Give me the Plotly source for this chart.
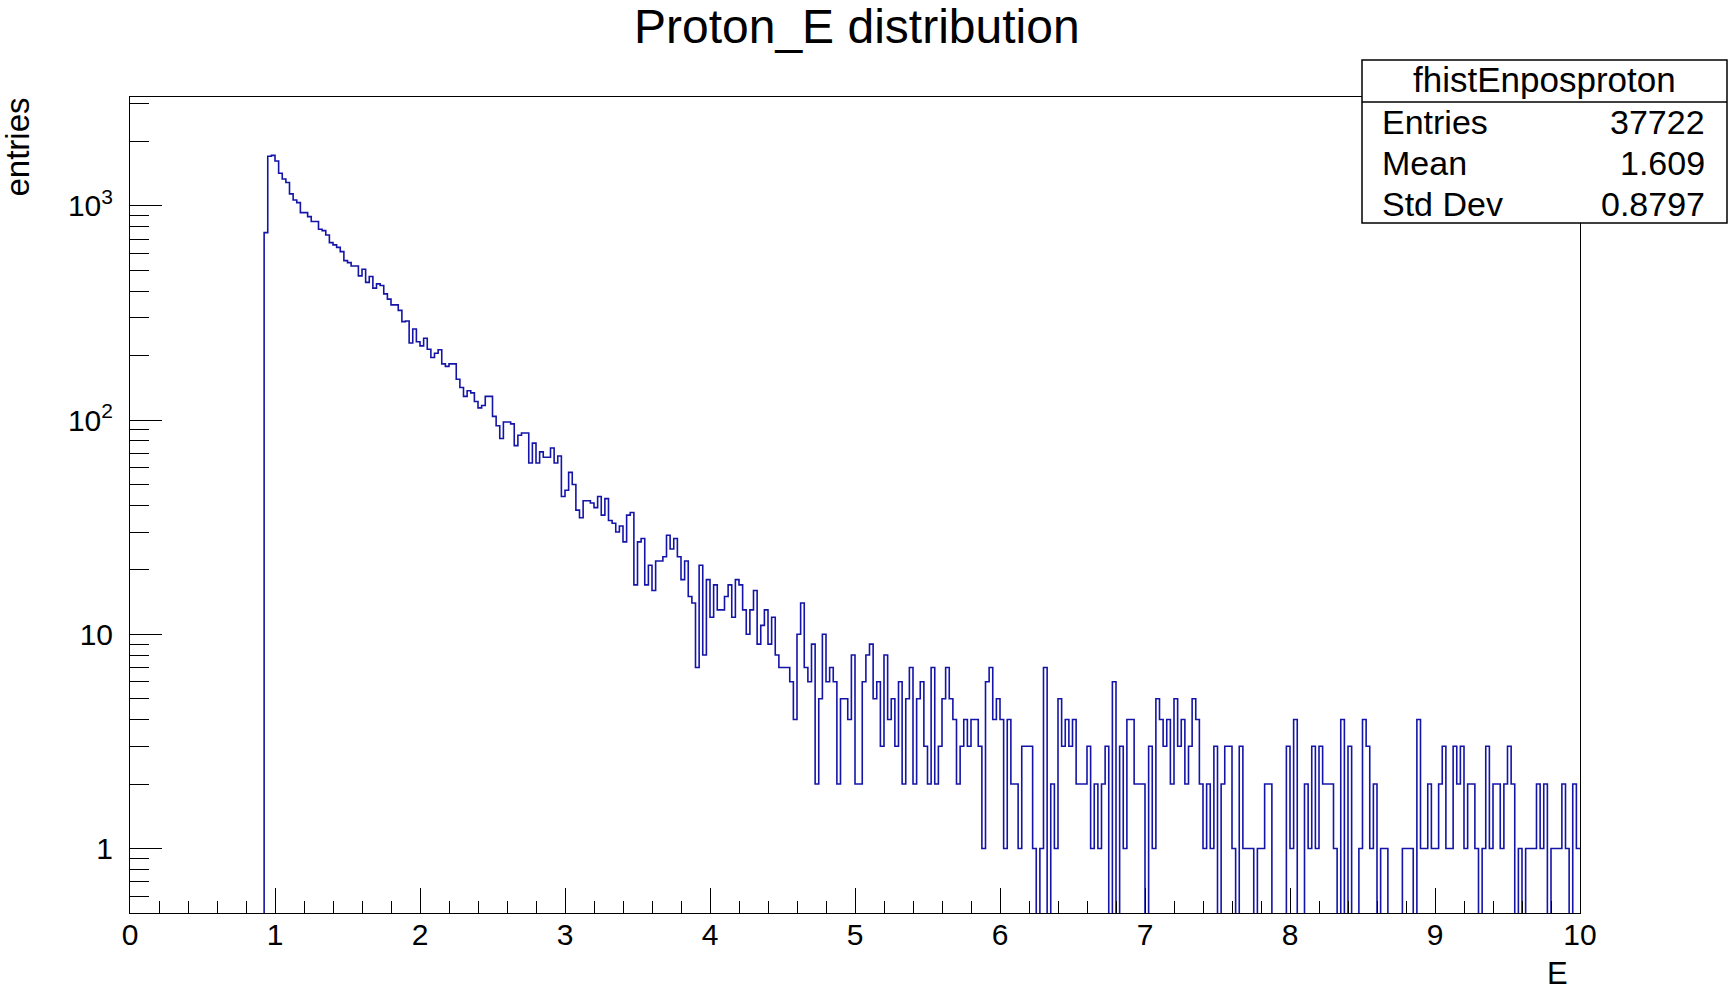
import plotly.graph_objects as go

# Histogram binning: 400 bins of width 0.025 between 0 and 10
x_min = 0.0
x_max = 10.0
bin_width = 0.025

# Bin contents, one value per bin, bin 0 starts at E = 0
counts = [
    0, 0, 0, 0, 0, 0, 0, 0, 0, 0,
    0, 0, 0, 0, 0, 0, 0, 0, 0, 0,
    0, 0, 0, 0, 0, 0, 0, 0, 0, 0,
    0, 0, 0, 0, 0, 0, 0, 750, 1705, 1720,
    1620, 1420, 1335, 1285, 1137, 1065, 1035, 930, 930, 890,
    845, 845, 778, 766, 731, 673, 657, 640, 611, 555,
    543, 524, 524, 471, 506, 439, 468, 413, 432, 425,
    388, 367, 345, 345, 325, 288, 290, 229, 266, 232,
    222, 241, 214, 196, 205, 213, 183, 178, 183, 183,
    155, 142, 129, 137, 134, 122, 114, 117, 129, 129,
    104, 94, 82, 98, 98, 96, 76, 85, 87, 87,
    63, 78, 63, 71, 67, 67, 74, 63, 68, 44,
    47, 57, 50, 38, 35, 42, 42, 41, 39, 44,
    36, 43, 34, 33, 30, 32, 27, 36, 37, 17,
    27, 28, 17, 21, 16, 22, 22, 23, 29, 25,
    28, 23, 18, 22, 15, 14, 7, 21, 8, 18,
    12, 17, 13, 13, 15, 17, 12, 18, 17, 13,
    10, 13, 16, 9, 11, 13, 9, 12, 8, 7,
    7, 7, 6, 4, 10, 14, 7, 6, 9, 2,
    5, 10, 6, 7, 6, 2, 5, 5, 4, 8,
    2, 2, 6, 8, 9, 5, 6, 3, 8, 4,
    5, 3, 6, 2, 5, 7, 2, 5, 6, 3,
    2, 7, 2, 3, 5, 7, 5, 4, 2, 3,
    4, 3, 4, 4, 3, 1, 6, 7, 4, 5,
    4, 1, 4, 2, 2, 1, 3, 3, 3, 1,
    0, 1, 7, 0, 2, 1, 5, 3, 4, 3,
    4, 2, 2, 2, 3, 1, 2, 1, 2, 3,
    0, 6, 0, 3, 1, 4, 4, 2, 2, 2,
    0, 3, 1, 5, 4, 3, 4, 2, 5, 3,
    4, 2, 3, 5, 4, 2, 1, 2, 1, 3,
    0, 2, 3, 3, 1, 0, 3, 1, 1, 1,
    0, 1, 1, 2, 2, 0, 0, 0, 0, 3,
    1, 4, 0, 0, 2, 1, 3, 1, 3, 2,
    2, 2, 1, 0, 4, 0, 3, 0, 0, 1,
    4, 3, 1, 2, 0, 1, 1, 0, 0, 0,
    0, 1, 1, 1, 0, 4, 1, 1, 2, 1,
    1, 2, 3, 1, 1, 3, 2, 3, 1, 2,
    2, 1, 0, 1, 3, 1, 2, 2, 1, 2,
    3, 2, 0, 1, 0, 1, 1, 1, 2, 1,
    2, 0, 1, 1, 1, 2, 1, 0, 2, 1,
]

hist_name = "fhistEnposproton"
stat_labels = ["Entries", "Mean", "Std Dev"]
stat_values = ["37722", "1.609", "0.8797"]

y_tick_vals = [1, 10, 100, 1000]
y_tick_text = ["1", "10", "10<sup>2</sup>", "10<sup>3</sup>"]
y_minor_vals = [0.5, 0.6, 0.7, 0.8, 0.9,
                2, 3, 4, 5, 6, 7, 8, 9,
                20, 30, 40, 50, 60, 70, 80, 90,
                200, 300, 400, 500, 600, 700, 800, 900,
                2000, 3000]
x_tick_vals = [0, 1, 2, 3, 4, 5, 6, 7, 8, 9, 10]

# Canvas geometry (pixels)
W, H = 1729, 989
L, R, T, B = 130, 1580, 97, 913

def px(x):
    return (x - L) / (R - L)

def py(y):
    return (B - y) / (B - T)

# Step outline: empty bins sink below the visible log range
n_bins = len(counts)
edges = [x_min + i * bin_width for i in range(n_bins + 1)]
floor_val = 1e-3
ys = [c if c > 0 else floor_val for c in counts]
ys = ys + [ys[-1]]

line_color = "#1414a8"
font_family = "Liberation Sans, Arial, Helvetica, sans-serif"

fig = go.Figure()
fig.add_trace(go.Scatter(
    x=edges, y=ys, mode="lines",
    line=dict(shape="hv", color=line_color, width=1.6),
    hoverinfo="skip", showlegend=False,
))

fig.update_layout(
    width=W, height=H,
    margin=dict(l=L, r=W - R, t=T, b=H - B, pad=0),
    paper_bgcolor="white", plot_bgcolor="white",
    font=dict(family=font_family, color="black"),
    showlegend=False,
)

fig.update_xaxes(
    range=[x_min, x_max], showgrid=False, zeroline=False,
    showline=True, linecolor="black", linewidth=1, mirror=True,
    tickmode="array", tickvals=x_tick_vals,
    ticks="inside", ticklen=25, tickwidth=1, tickcolor="black",
    tickfont=dict(size=30, family=font_family),
    ticklabelstandoff=-5,
    minor=dict(dtick=0.2, ticks="inside", ticklen=12, tickwidth=1, tickcolor="black"),
)

fig.update_yaxes(
    type="log", range=[-0.3010, 3.508], showgrid=False, zeroline=False,
    showline=True, linecolor="black", linewidth=1, mirror=True,
    tickmode="array", tickvals=y_tick_vals, ticktext=y_tick_text,
    ticks="inside", ticklen=32, tickwidth=1, tickcolor="black",
    tickfont=dict(size=30, family=font_family),
    ticklabelstandoff=10,
    minor=dict(tickmode="array", tickvals=y_minor_vals, ticks="inside",
               ticklen=19, tickwidth=1, tickcolor="black"),
)

annotations = []
shapes = []

# Title
annotations.append(dict(
    text="Proton_E distribution", x=px(857), y=py(26),
    xref="paper", yref="paper", xanchor="center", yanchor="middle",
    showarrow=False, font=dict(size=48, family=font_family),
))

# Axis titles
annotations.append(dict(
    text="entries", x=px(17), y=py(96), textangle=-90,
    xref="paper", yref="paper", xanchor="center", yanchor="top",
    showarrow=False, font=dict(size=33, family=font_family),
))
annotations.append(dict(
    text="E", x=px(1557), y=py(973),
    xref="paper", yref="paper", xanchor="center", yanchor="middle",
    showarrow=False, font=dict(size=31, family=font_family),
))

# Statistics box
bx0, bx1, by0, by1, bsep = 1362, 1727, 60, 223, 102
shapes.append(dict(type="rect", xref="paper", yref="paper",
                   x0=px(bx0), x1=px(bx1), y0=py(by1), y1=py(by0),
                   line=dict(color="black", width=1.5), fillcolor="white",
                   layer="above"))
shapes.append(dict(type="line", xref="paper", yref="paper",
                   x0=px(bx0), x1=px(bx1), y0=py(bsep), y1=py(bsep),
                   line=dict(color="black", width=1.5), layer="above"))
annotations.append(dict(
    text=hist_name, x=px((bx0 + bx1) / 2), y=py(79),
    xref="paper", yref="paper", xanchor="center", yanchor="middle",
    showarrow=False, font=dict(size=35, family=font_family),
))
row_y = [122, 163, 204]
for lab, val, ry in zip(stat_labels, stat_values, row_y):
    annotations.append(dict(
        text=lab, x=px(1380), y=py(ry),
        xref="paper", yref="paper", xanchor="left", yanchor="middle",
        showarrow=False, font=dict(size=34, family=font_family),
    ))
    annotations.append(dict(
        text=val, x=px(1707), y=py(ry),
        xref="paper", yref="paper", xanchor="right", yanchor="middle",
        showarrow=False, font=dict(size=34, family=font_family),
    ))

fig.update_layout(annotations=annotations, shapes=shapes)

fig.write_html("out.html")
